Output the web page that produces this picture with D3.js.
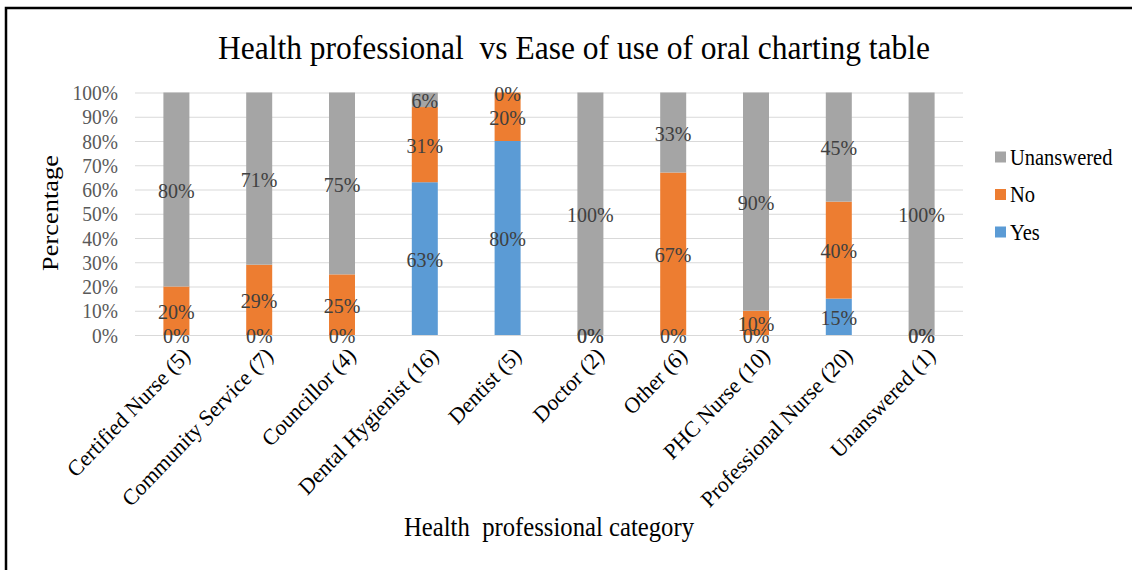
<!DOCTYPE html>
<html>
<head>
<meta charset="utf-8">
<script src="https://cdn.jsdelivr.net/npm/d3@7"></script>
<style>
  html, body { margin: 0; padding: 0; background: #fff; }
  svg { display: block; font-family: "Liberation Serif", "Times New Roman", serif; }
</style>
</head>
<body>
<svg id="chart" width="1132" height="570"></svg>
<script>
const categories = ["Certified Nurse (5)", "Community Service (7)", "Councillor (4)", "Dental Hygienist (16)", "Dentist (5)", "Doctor (2)", "Other (6)", "PHC Nurse (10)", "Professional Nurse (20)", "Unanswered (1)"];
const yesValues = [0, 0, 0, 63, 80, 0, 0, 0, 15, 0];
const noValues = [20, 29, 25, 31, 20, 0, 67, 10, 40, 0];
const unansweredValues = [80, 71, 75, 6, 0, 100, 33, 90, 45, 100];
const seriesNames = ["Yes", "No", "Unanswered"];
const seriesColors = ["#5B9BD5", "#ED7D31", "#A5A5A5"];
const yTickValues = [0, 10, 20, 30, 40, 50, 60, 70, 80, 90, 100];
const titleText = "Health professional  vs Ease of use of oral charting table";
const xTitleText = "Health  professional category";
const yTitleText = "Percentage";

const svg = d3.select("#chart");
const plot = { left: 135, right: 963, top: 92.5, bottom: 335 };
const SY = 1.1; // vertical stretch of the glyphs seen in the reference

// frame
svg.append("rect").attr("x", 6).attr("y", 8).attr("width", 1200).attr("height", 700)
  .attr("fill", "none").attr("stroke", "#000").attr("stroke-width", 2.5);

const rows = categories.map((c, i) => ({ cat: c, Yes: yesValues[i], No: noValues[i], Unanswered: unansweredValues[i] }));
const stacked = d3.stack().keys(seriesNames)(rows);

const x = d3.scaleBand().domain(categories).range([plot.left, plot.right]).paddingInner(0.686).paddingOuter(0.343);
const y = d3.scaleLinear().domain([0, 100]).range([plot.bottom, plot.top]);

// y axis with gridlines
const yAxis = d3.axisLeft(y).tickValues(yTickValues).tickFormat(d => d + "%")
  .tickSize(-(plot.right - plot.left)).tickPadding(17);
const gy = svg.append("g").attr("transform", `translate(${plot.left},0)`).call(yAxis);
gy.select(".domain").remove();
gy.selectAll(".tick line").attr("stroke", "#D9D9D9").attr("stroke-width", 1.2);
gy.selectAll(".tick text").attr("fill", "#595959").attr("font-size", 19.5)
  .attr("font-family", "Liberation Serif, serif")
  .attr("x", 0).attr("dy", "0.33em")
  .attr("transform", `translate(-17,0) scale(1,${SY})`);

// bars
const color = d3.scaleOrdinal().domain(seriesNames).range(seriesColors);
const layers = svg.append("g").selectAll("g").data(stacked).join("g").attr("fill", d => color(d.key));
layers.selectAll("rect").data(d => d).join("rect")
  .attr("x", d => x(d.data.cat))
  .attr("width", x.bandwidth())
  .attr("y", d => y(d[1]))
  .attr("height", d => y(d[0]) - y(d[1]));

// data labels
const labels = svg.append("g");
stacked.forEach(layer => {
  layer.forEach(d => {
    const v = d[1] - d[0];
    const cx = x(d.data.cat) + x.bandwidth() / 2;
    const cy = y((d[0] + d[1]) / 2);
    labels.append("text")
      .attr("transform", `translate(${cx},${cy + 1}) scale(1,${SY})`)
      .attr("dy", "0.33em")
      .attr("text-anchor", "middle")
      .attr("fill", "#404040")
      .attr("font-size", 20)
      .text(v + "%");
  });
});

// x axis labels
const gx = svg.append("g").attr("transform", `translate(0,${plot.bottom})`)
  .call(d3.axisBottom(x).tickSize(0).tickPadding(0));
gx.select(".domain").remove();
gx.selectAll(".tick text")
  .attr("font-family", "Liberation Serif, serif")
  .attr("font-size", 21.5)
  .attr("fill", "#000")
  .attr("text-anchor", "end")
  .attr("dy", "0")
  .attr("y", 0)
  .attr("transform", `translate(15,22) scale(1,1.05) rotate(-45)`);

// titles
svg.append("text").attr("transform", `translate(574,59) scale(1,${SY})`).attr("text-anchor", "middle")
  .attr("font-size", 31.5).attr("fill", "#000").style("white-space", "pre").text(titleText);
svg.append("text").attr("transform", `translate(549,536) scale(1,${SY})`).attr("text-anchor", "middle")
  .attr("font-size", 24.7).attr("fill", "#000").style("white-space", "pre").text(xTitleText);
svg.append("text").attr("transform", `translate(58,213) scale(1,${SY}) rotate(-90)`).attr("text-anchor", "middle")
  .attr("font-size", 24).attr("fill", "#000").text(yTitleText);

// legend
const legendNames = ["Unanswered", "No", "Yes"];
const lg = svg.append("g").selectAll("g").data(legendNames).join("g")
  .attr("transform", (d, i) => `translate(995,${157 + i * 37.5})`);
lg.append("rect").attr("x", 0).attr("y", -5.5).attr("width", 11).attr("height", 11).attr("fill", d => color(d));
lg.append("text").attr("x", 15).attr("dy", "0.35em").attr("font-size", 20.5).attr("fill", "#000")
  .attr("transform", `scale(1,${SY})`).attr("y", 0).text(d => d);
</script>
</body>
</html>
